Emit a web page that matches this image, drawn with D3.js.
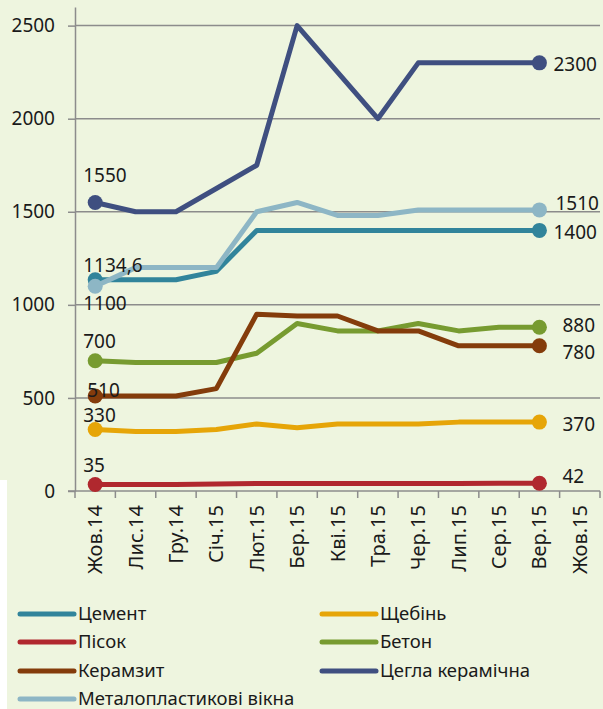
<!DOCTYPE html>
<html>
<head>
<meta charset="utf-8">
<script src="https://cdn.jsdelivr.net/npm/d3@7"></script>
<style>
  body { margin: 0; background: #fff; }
  svg { display: block; font-family: "Noto Sans", sans-serif; }
</style>
</head>
<body>
<svg id="chart" width="603" height="709"></svg>
<script>
// Categories (months), the last one has no data
var months = ["Жов.14", "Лис.14", "Гру.14", "Січ.15", "Лют.15", "Бер.15", "Кві.15",
  "Тра.15", "Чер.15", "Лип.15", "Сер.15", "Вер.15", "Жов.15"];

// Series values
var cement   = [1134.6, 1134.6, 1134.6, 1180, 1400, 1400, 1400, 1400, 1400, 1400, 1400, 1400];
var gravel   = [330, 320, 320, 330, 360, 340, 360, 360, 360, 370, 370, 370];
var sand     = [35, 35, 35, 38, 40, 40, 40, 40, 40, 40, 42, 42];
var concrete = [700, 690, 690, 690, 740, 900, 860, 860, 900, 860, 880, 880];
var keramzit = [510, 510, 510, 550, 950, 940, 940, 860, 860, 780, 780, 780];
var brick    = [1550, 1500, 1500, 1625, 1750, 2500, 2250, 2000, 2300, 2300, 2300, 2300];
var windows  = [1100, 1200, 1200, 1200, 1500, 1550, 1480, 1480, 1510, 1510, 1510, 1510];

var seriesNames = ["Цемент", "Щебінь", "Пісок", "Бетон", "Керамзит", "Цегла керамічна", "Металопластикові вікна"];
var seriesValues = [cement, gravel, sand, concrete, keramzit, brick, windows];
var yTicks = [0, 500, 1000, 1500, 2000, 2500];

// styles
var colors = ["#31849b", "#e6a508", "#b0282e", "#779b30", "#843c0b", "#3f4f80", "#8db6c5"];
// label offsets: [start dx, start dy, end dx, end dy]
var labelOffsets = [
  [-12, -8, 14, 9],
  [-12, -8, 23, 9],
  [-12, -12, 23, 0],
  [-12, -13, 23, 5],
  [-8, 1, 23, 13],
  [-12, -20, 14, 8],
  [-12, 24, 16, 0]
];

var svg = d3.select("#chart");
var W = 603, H = 709;

svg.append("rect").attr("width", W).attr("height", H).attr("fill", "#eef5df");
svg.append("rect").attr("x", 0).attr("y", 480).attr("width", 7).attr("height", H - 480).attr("fill", "#fff");

var x = d3.scaleBand().domain(months).range([75, 600]);
var y = d3.scaleLinear().domain([0, 2600]).range([491, 7]);
var cx = function (i) { return x(months[i]) + x.bandwidth() / 2; };

var axisColor = "#8c8c8c";

// gridlines
svg.append("g").selectAll("line")
  .data(yTicks.filter(function (d) { return d > 0; }))
  .enter().append("line")
  .attr("x1", 75).attr("x2", 600)
  .attr("y1", function (d) { return y(d); })
  .attr("y2", function (d) { return y(d); })
  .attr("stroke", axisColor).attr("stroke-width", 1.5);

// y axis
var yAxis = svg.append("g")
  .attr("transform", "translate(75,0)")
  .call(d3.axisLeft(y).tickValues(yTicks).tickFormat(d3.format("d"))
    .tickSize(7).tickSizeOuter(0).tickPadding(13));
yAxis.selectAll("path, line").attr("stroke", axisColor).attr("stroke-width", 1.5);
yAxis.selectAll("text").attr("font-size", 19).attr("fill", "#1a1a1a")
  .attr("font-family", "Noto Sans, sans-serif");

// x axis
svg.append("line")
  .attr("x1", 68).attr("x2", 600).attr("y1", y(0)).attr("y2", y(0))
  .attr("stroke", axisColor).attr("stroke-width", 1.5);
var bounds = months.map(function (m) { return x(m); }).concat([x.range()[1]]);
svg.append("g").selectAll("line").data(bounds).enter().append("line")
  .attr("x1", function (d) { return d; }).attr("x2", function (d) { return d; })
  .attr("y1", y(0)).attr("y2", y(0) + 7)
  .attr("stroke", axisColor).attr("stroke-width", 1.5);
svg.append("g").selectAll("text").data(months).enter().append("text")
  .attr("transform", function (d, i) { return "translate(" + (cx(i) + 7) + "," + (y(0) + 14) + ") rotate(-90)"; })
  .attr("text-anchor", "end")
  .attr("font-size", 20)
  .attr("fill", "#1a1a1a")
  .text(function (d) { return d; });

// lines
var line = d3.line()
  .x(function (d, i) { return cx(i); })
  .y(function (d) { return y(d); });

seriesValues.forEach(function (vals, s) {
  var g = svg.append("g");
  g.append("path")
    .attr("d", line(vals))
    .attr("fill", "none")
    .attr("stroke", colors[s])
    .attr("stroke-width", 5)
    .attr("stroke-linejoin", "round");
  var last = vals.length - 1;
  [0, last].forEach(function (i) {
    g.append("circle")
      .attr("cx", cx(i)).attr("cy", y(vals[i])).attr("r", 7.5)
      .attr("fill", colors[s]);
  });
});

// data labels
seriesValues.forEach(function (vals, s) {
  var last = vals.length - 1;
  var off = labelOffsets[s];
  var fmt = function (v) { return String(v).replace(".", ","); };
  svg.append("text")
    .attr("x", cx(0) + off[0]).attr("y", y(vals[0]) + off[1])
    .attr("font-size", 19).attr("fill", "#1a1a1a")
    .text(fmt(vals[0]));
  svg.append("text")
    .attr("x", cx(last) + off[2]).attr("y", y(vals[last]) + off[3])
    .attr("font-size", 19).attr("fill", "#1a1a1a")
    .text(fmt(vals[last]));
});

// legend
var legendPos = [[20, 614], [322, 614], [20, 642], [322, 642], [20, 671], [322, 671], [20, 699]];
var legend = svg.append("g").selectAll("g").data(seriesNames).enter().append("g")
  .attr("transform", function (d, i) { return "translate(" + legendPos[i][0] + "," + legendPos[i][1] + ")"; });
legend.append("line")
  .attr("x1", 0).attr("x2", 54)
  .attr("stroke", function (d, i) { return colors[i]; })
  .attr("stroke-width", 5).attr("stroke-linecap", "round");
legend.append("text")
  .attr("x", 58).attr("y", 6)
  .attr("font-size", 18.5).attr("fill", "#1a1a1a")
  .text(function (d) { return d; });
</script>
</body>
</html>
